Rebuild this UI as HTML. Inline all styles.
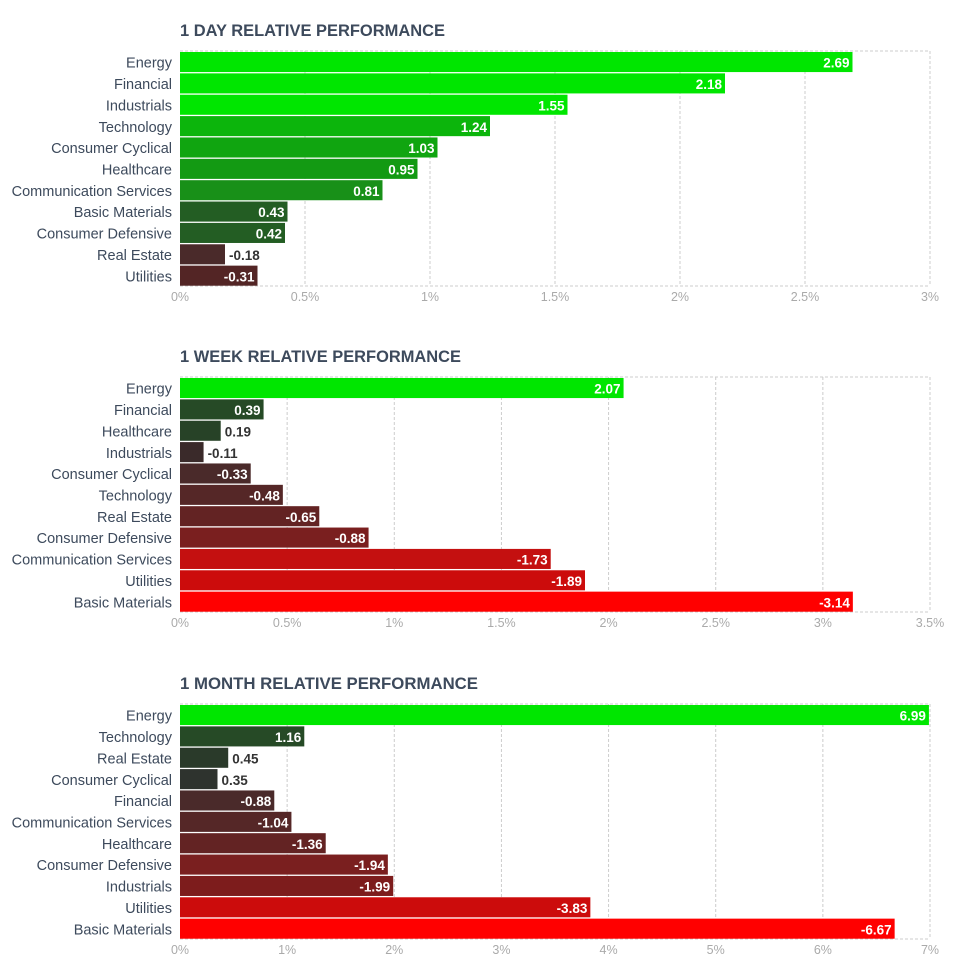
<!DOCTYPE html>
<html><head><meta charset="utf-8"><style>
body{margin:0;background:#fff;width:958px;height:969px;overflow:hidden;font-family:"Liberation Sans",sans-serif}
</style></head><body>
<svg id="svg" width="958" height="969"></svg>
<script>
const dayCats=["Energy","Financial","Industrials","Technology","Consumer Cyclical","Healthcare","Communication Services","Basic Materials","Consumer Defensive","Real Estate","Utilities"];
const dayVals=[2.69,2.18,1.55,1.24,1.03,0.95,0.81,0.43,0.42,-0.18,-0.31];
const dayColors=["#00e600","#00e600","#00e600","#0cb50c","#10a510","#139a13","#189018","#235d23","#235d23","#4a2a2a","#532525"];
const dayTicks=[0,0.5,1,1.5,2,2.5,3];
const weekCats=["Energy","Financial","Healthcare","Industrials","Consumer Cyclical","Technology","Real Estate","Consumer Defensive","Communication Services","Utilities","Basic Materials"];
const weekVals=[2.07,0.39,0.19,-0.11,-0.33,-0.48,-0.65,-0.88,-1.73,-1.89,-3.14];
const weekColors=["#00e600","#264a26","#274227","#3a2a2a","#4a2a2a","#552727","#632323","#7a1f1f","#c41010","#cc0c0c","#ff0000"];
const weekTicks=[0,0.5,1,1.5,2,2.5,3,3.5];
const monthCats=["Energy","Technology","Real Estate","Consumer Cyclical","Financial","Communication Services","Healthcare","Consumer Defensive","Industrials","Utilities","Basic Materials"];
const monthVals=[6.99,1.16,0.45,0.35,-0.88,-1.04,-1.36,-1.94,-1.99,-3.83,-6.67];
const monthColors=["#00e600","#264a26","#2a3a2a","#2e332e","#4a2a2a","#552727","#632323","#7a1f1f","#7d1c1c","#cc0c0c","#ff0000"];
const monthTicks=[0,1,2,3,4,5,6,7];
const NS="http://www.w3.org/2000/svg";
const svg=document.getElementById('svg');
function mk(t,a,p){const e=document.createElementNS(NS,t);for(const k in a)e.setAttribute(k,a[k]);(p||svg).appendChild(e);return e;}
function chart(name,title,top,cats,vals,colors,ticks){
  const g=mk('g',{});
  
  
  const x0=180,x1=930,h=235,max=ticks[ticks.length-1];
  const x=v=>x0+Math.abs(v)/max*(x1-x0);
  const t=mk('text',{x:180,y:top-15,'font-size':16.5,'font-weight':'bold',fill:'#3d4a5c',textLength:265,lengthAdjust:'spacingAndGlyphs'},g);t.textContent=title;
  if(title.indexOf('WEEK')>=0)t.setAttribute('textLength',281);
  if(title.indexOf('MONTH')>=0)t.setAttribute('textLength',298);
  
  
  ticks.forEach((tk,i)=>{
    const xx=x(tk);
    if(i>0)mk('line',{x1:xx,x2:xx,y1:top,y2:top+h,stroke:'#ccc','stroke-dasharray':'3,2'},g);
    const l=mk('text',{x:xx,y:top+h+15,'font-size':12.5,fill:'#aaa','text-anchor':'middle'},g);
    l.textContent=tk+'%';
    
    
  });
  mk('line',{x1:x0,x2:x1,y1:top,y2:top,stroke:'#ccc','stroke-dasharray':'3,2'},g);
  mk('line',{x1:x0,x2:x1,y1:top+h,y2:top+h,stroke:'#ccc','stroke-dasharray':'3,2'},g);
  const rh=h/cats.length;
  cats.forEach((c,i)=>{
    const y=top+1+i*rh;
    const w=x(vals[i])-x0;
    const r=mk('rect',{x:x0,y:y,width:w,height:rh-1.3,fill:colors[i]},g);
    
    
    const lb=mk('text',{x:172,y:y+rh/2+5,'font-size':14.5,fill:'#3d4a5c','text-anchor':'end'},g);
    lb.textContent=c;
    
    
    const inside=w>60;
    const v=mk('text',{x:inside?x0+w-3:x0+w+4,y:y+rh/2+5,'font-size':13.5,'font-weight':'bold',fill:inside?'#fff':'#333','text-anchor':inside?'end':'start'},g);
    v.textContent=vals[i].toFixed(2);
    
    
  });
}
chart('day-chart','1 DAY RELATIVE PERFORMANCE',51,dayCats,dayVals,dayColors,dayTicks);
chart('week-chart','1 WEEK RELATIVE PERFORMANCE',377,weekCats,weekVals,weekColors,weekTicks);
chart('month-chart','1 MONTH RELATIVE PERFORMANCE',704,monthCats,monthVals,monthColors,monthTicks);
</script>
</body></html>
